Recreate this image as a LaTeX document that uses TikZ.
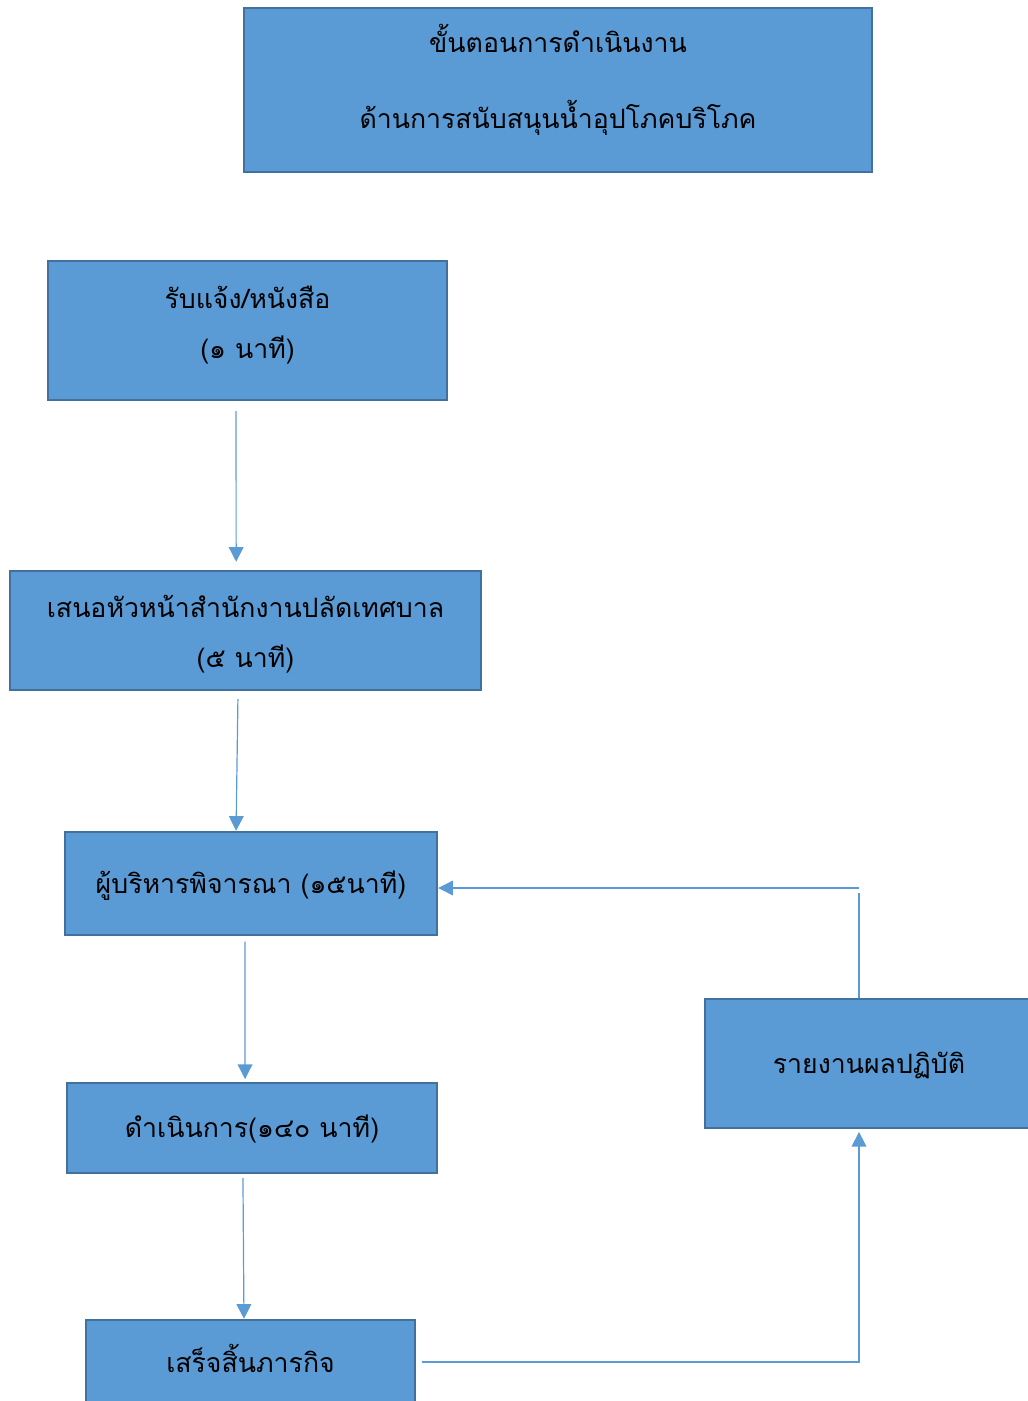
\documentclass[tikz,border=0pt]{standalone}
\usepackage{fontspec}
\newfontfamily\thaifont[Script=Thai]{Loma}
\usetikzlibrary{arrows.meta}
\definecolor{boxfill}{HTML}{5B9BD5}
\definecolor{boxline}{HTML}{41719C}
\definecolor{connline}{HTML}{5B9BD5}
\newcommand{\shiftby}[2]{\raisebox{#1}[\height][\depth]{\begin{tabular}{@{}c@{}}#2\end{tabular}}}
\tikzset{
  box/.style={draw=boxline, line width=1.8pt, fill=boxfill, rectangle, inner sep=0pt,
    align=center, font=\thaifont\fontsize{20}{26}\selectfont, text=black},
  conn/.style={draw=connline, line width=0.9pt, -{Triangle[length=11pt,width=11pt]}},
  plain/.style={draw=connline, line width=0.9pt}
}
\begin{document}
\begin{tikzpicture}[x=0.75pt,y=-0.75pt]
\useasboundingbox (0,0) rectangle (1027,1401);
\node[box, minimum width=471pt, minimum height=123pt] (title) at (558,90)
  {\shiftby{6.4pt}{ขั้นตอนการดำเนินงาน\\[28pt]ด้านการสนับสนุนน้ำอุปโภคบริโภค}};
\node[box, minimum width=299.25pt, minimum height=104.25pt] (b1) at (247.5,330.5)
  {\shiftby{3pt}{รับแจ้ง/หนังสือ\\[12pt](๑ นาที)}};
\node[box, minimum width=353.25pt, minimum height=89.25pt] (b2) at (245.5,630.5)
  {\shiftby{-3.75pt}{เสนอหัวหน้าสำนักงานปลัดเทศบาล\\[12pt](๕ นาที)}};
\node[box, minimum width=279pt, minimum height=77.25pt] (b3) at (251,883.5)
  {\shiftby{-2.25pt}{ผู้บริหารพิจารณา (๑๕นาที)}};
\node[box, minimum width=277.5pt, minimum height=67.5pt] (b4) at (252,1128)
  {\shiftby{-2.25pt}{ดำเนินการ(๑๔๐ นาที)}};
\node[box, minimum width=246.75pt, minimum height=63pt] (b5) at (250.5,1362)
  {\shiftby{-0.8pt}{เสร็จสิ้นภารกิจ}};
\node[box, minimum width=246pt, minimum height=96.75pt] (b6) at (869,1063.5)
  {\shiftby{-2.25pt}{รายงานผลปฏิบัติ}};
\coordinate (k1) at (859,1362);
\coordinate (k2) at (859,888);
\draw[conn, shorten <=7.5pt, shorten >=6pt] ([xshift=-8.6pt]b1.south) -- ([xshift=-7pt]b2.north);
\draw[conn, shorten <=6pt] ([xshift=-5.6pt]b2.south) -- ([xshift=-11.2pt]b3.north);
\draw[conn, shorten <=4pt, shorten >=2pt] ([xshift=-4.5pt]b3.south) -- ([xshift=-5.2pt]b4.north);
\draw[conn, shorten <=3pt] ([xshift=-6.8pt]b4.south) -- ([xshift=-4.9pt]b5.north);
\draw[conn, shorten <=4pt, shorten >=2pt] (b5.east) -- (k1) -- (k1 |- b6.south);
\draw[plain] (k2 |- b6.north) -- ([yshift=-4pt]k2);
\draw[conn] (k2) -- (k2 -| b3.east);
\end{tikzpicture}
\end{document}
